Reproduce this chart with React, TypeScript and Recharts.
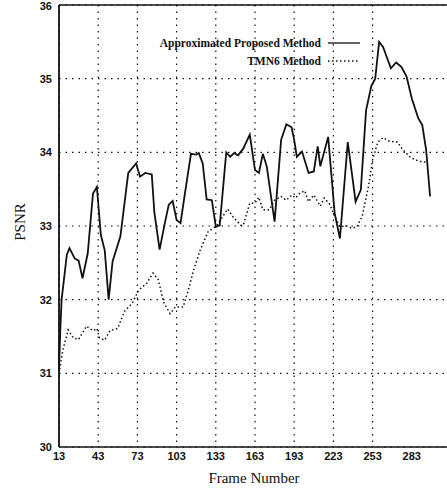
import {
  LineChart,
  Line,
  XAxis,
  YAxis,
  CartesianGrid,
  ReferenceLine,
} from "recharts";

const xTicks = [13, 43, 73, 103, 133, 163, 193, 223, 253, 283];
const gridX = [13, 43, 73, 103, 133, 163, 193, 223, 253, 283, 313];
const yTicks = [30, 31, 32, 33, 34, 35, 36];

// Approximated Proposed Method (solid)
const proposedFrames = [
  13, 14, 15, 19, 21, 25, 28, 31, 35, 39, 42, 45, 48, 51, 54, 60, 66, 72, 75, 79,
  84, 86, 90, 94, 97, 100, 103, 106, 109, 114, 118, 120, 123, 126, 130, 133, 136,
  141, 144, 147, 150, 154, 159, 163, 166, 169, 172, 178, 183, 187, 191, 193, 195,
  199, 204, 208, 211, 213, 219, 224, 228, 234, 240, 244, 248, 252, 255, 258, 261,
  267, 271, 275, 279, 283, 288, 291, 294, 297,
];
const proposedPsnr = [
  31.05, 31.6, 32.0, 32.61, 32.7, 32.56, 32.53, 32.29, 32.63, 33.44, 33.53, 32.88,
  32.67, 32.0, 32.52, 32.86, 33.72, 33.85, 33.67, 33.72, 33.7, 33.18, 32.68, 33.04,
  33.29, 33.34, 33.08, 33.04, 33.4, 33.98, 33.97, 33.99, 33.85, 33.36, 33.35, 32.99,
  33.01, 34.0, 33.94, 33.99, 33.96, 34.05, 34.24, 33.76, 33.72, 33.98, 33.81, 33.06,
  34.17, 34.38, 34.34, 34.17, 33.94, 34.01, 33.72, 33.74, 34.08, 33.81, 34.21, 33.17,
  32.83, 34.14, 33.33, 33.49, 34.57, 34.9, 35.0, 35.5, 35.43, 35.14, 35.22, 35.16,
  35.03, 34.73, 34.46, 34.37, 34.03, 33.4,
];

// TMN6 Method (dotted)
const tmnFrames = [
  13, 16, 20, 24, 28, 34, 39, 42, 44, 48, 52, 58, 63, 69, 74, 80, 85, 89, 93, 98,
  102, 108, 112, 116, 121, 127, 134, 142, 146, 152, 154, 159, 163, 166, 169, 174,
  178, 183, 187, 191, 194, 197, 201, 204, 208, 213, 216, 220, 224, 228, 233, 237,
  241, 245, 250, 253, 257, 261, 266, 272, 276, 282, 287, 291, 295,
];
const tmnPsnr = [
  31.0, 31.32, 31.59, 31.48, 31.46, 31.64, 31.58, 31.61, 31.48, 31.45, 31.58, 31.61,
  31.84, 31.95, 32.13, 32.22, 32.36, 32.27, 31.97, 31.81, 31.9, 31.9, 32.13, 32.4,
  32.67, 32.92, 33.01, 33.23, 33.13, 33.01, 33.01, 33.31, 33.31, 33.39, 33.22, 33.22,
  33.35, 33.4, 33.35, 33.42, 33.38, 33.44, 33.48, 33.33, 33.42, 33.27, 33.38, 33.3,
  33.13, 32.99, 33.0, 32.97, 32.99, 33.13, 33.55, 33.9, 34.14, 34.2, 34.15, 34.14,
  34.04, 33.93, 33.89, 33.87, 33.87,
];

const proposed = proposedFrames.map((frame, i) => ({ frame, psnr: proposedPsnr[i] }));
const tmn = tmnFrames.map((frame, i) => ({ frame, psnr: tmnPsnr[i] }));

const tickStyle = {
  fontFamily: "Liberation Sans, Arial, sans-serif",
  fontSize: 11,
  fontWeight: 700,
  fill: "#111",
};
const serif = "Liberation Serif, Times New Roman, serif";

function ChartLegend() {
  const row = {
    display: "flex",
    alignItems: "center",
    justifyContent: "flex-end",
    height: 18,
  };
  return (
    <div
      style={{
        position: "absolute",
        left: 150,
        top: 34,
        width: 210,
        fontFamily: serif,
        fontSize: 11.5,
        fontWeight: 700,
        color: "#111",
      }}
    >
      <div style={row}>
        <span>Approximated Proposed Method</span>
        <svg width={32} height={6} style={{ marginLeft: 7 }}>
          <line x1={0} y1={3} x2={32} y2={3} stroke="#111" strokeWidth={1.3} />
        </svg>
      </div>
      <div style={row}>
        <span>TMN6 Method</span>
        <svg width={32} height={6} style={{ marginLeft: 7 }}>
          <line x1={0} y1={3} x2={32} y2={3} stroke="#111" strokeWidth={1.3} strokeDasharray="1.5 2.5" />
        </svg>
      </div>
    </div>
  );
}

export default function App() {
  return (
    <div style={{ position: "absolute", left: 0, top: 0, width: 447, height: 490, overflow: "hidden", background: "#fff" }}>
      <LineChart
        width={452}
        height={490}
        margin={{ top: 5, right: 1, left: 0, bottom: 0 }}
      >
        <CartesianGrid
          stroke="#111"
          strokeWidth={1.2}
          strokeDasharray="1.5 5"
          horizontalValues={yTicks}
          verticalValues={gridX}
        />
        <XAxis
          type="number"
          dataKey="frame"
          domain={[13, 313]}
          ticks={xTicks}
          height={43}
          allowDuplicatedCategory={false}
          tick={tickStyle}
          tickLine={false}
          tickSize={3}
          tickMargin={2}
          axisLine={{ stroke: "#111", strokeWidth: 1.6 }}
          label={{
            content: () => (
              <text x={254} y={483} textAnchor="middle" fontFamily={serif} fontSize={15} fill="#111">
                Frame Number
              </text>
            ),
          }}
        />
        <YAxis
          type="number"
          domain={[30, 36]}
          ticks={yTicks}
          width={59}
          tick={tickStyle}
          tickLine={false}
          tickSize={4}
          tickMargin={3}
          axisLine={{ stroke: "#111", strokeWidth: 1.8 }}
          label={{
            content: () => (
              <text
                x={20}
                y={222}
                transform="rotate(-90 20 222)"
                textAnchor="middle"
                dominantBaseline="central"
                fontFamily={serif}
                fontSize={15}
                fill="#111"
              >
                PSNR
              </text>
            ),
          }}
        />
        <ReferenceLine y={36} stroke="#111" strokeWidth={1.6} />
        <Line
          data={proposed}
          dataKey="psnr"
          type="linear"
          stroke="#111"
          strokeWidth={1.8}
          dot={false}
          isAnimationActive={false}
        />
        <Line
          data={tmn}
          dataKey="psnr"
          type="linear"
          stroke="#111"
          strokeWidth={1.5}
          strokeDasharray="1.5 2.5"
          dot={false}
          isAnimationActive={false}
        />
      </LineChart>
      <ChartLegend />
    </div>
  );
}
